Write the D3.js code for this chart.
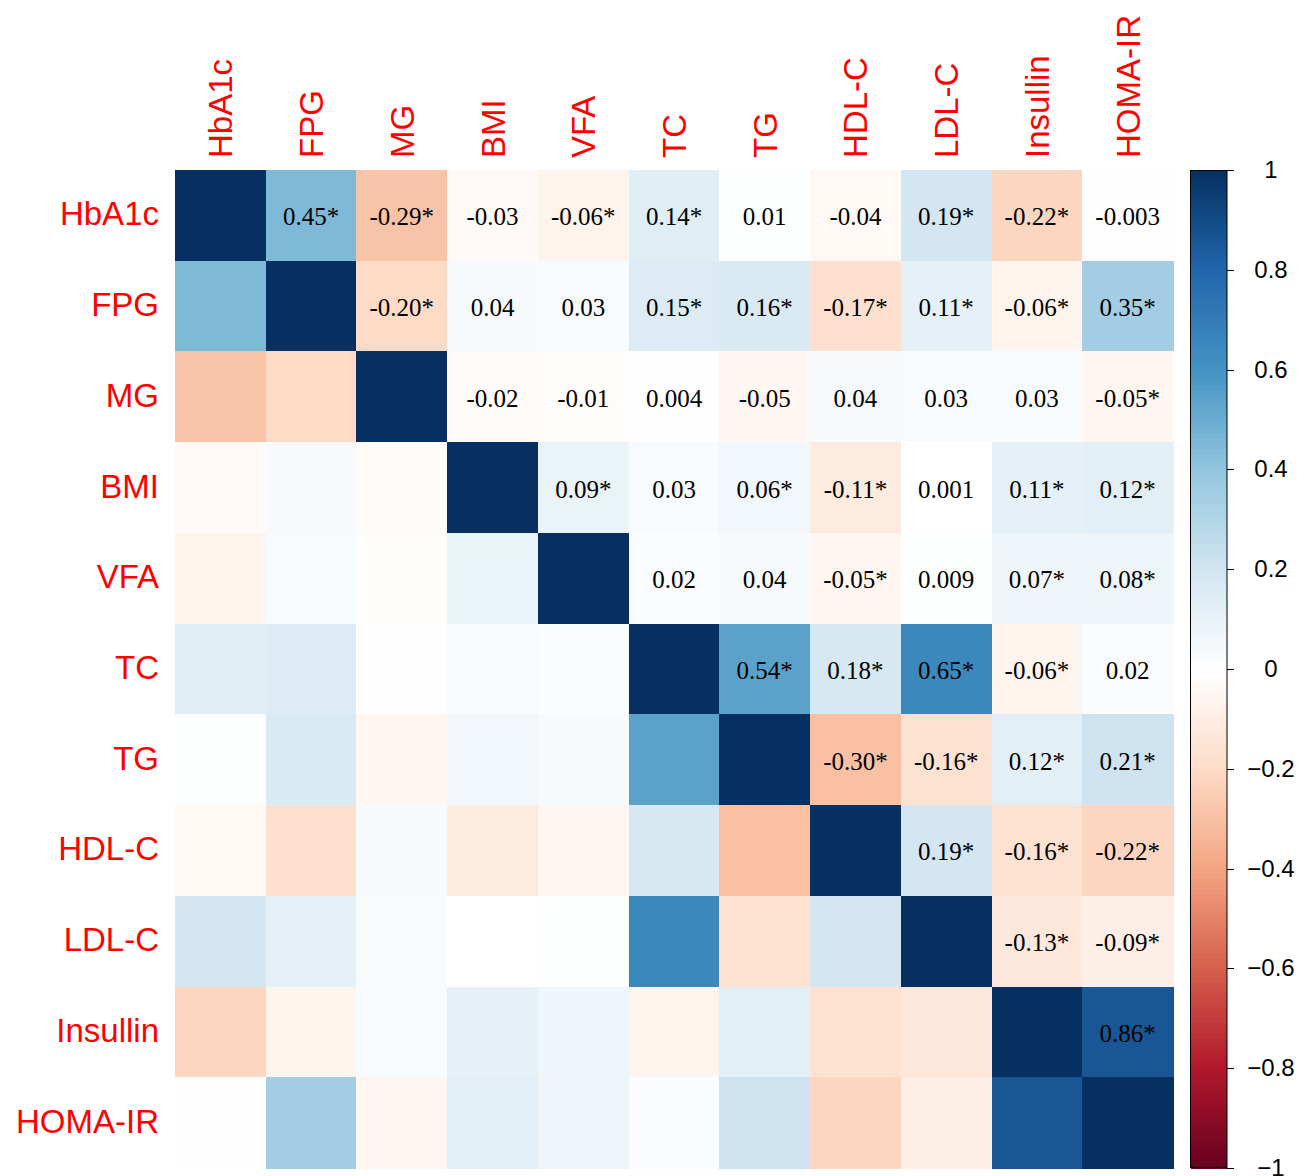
<!DOCTYPE html>
<html>
<head>
<meta charset="utf-8">
<script src="https://cdn.jsdelivr.net/npm/d3@7"></script>
<style>
  html, body { margin: 0; padding: 0; background: #fff; }
  svg { display: block; }
</style>
</head>
<body>
<svg id="chart" width="1307" height="1176"></svg>
<script>
// ---------- DATA ----------
const variables = ["HbA1c", "FPG", "MG", "BMI", "VFA", "TC", "TG", "HDL-C", "LDL-C", "Insullin", "HOMA-IR"];

// upper-triangle correlations, row by row (columns to the right of the diagonal)
const upperValues = [
  [0.45, -0.29, -0.03, -0.06, 0.14, 0.01, -0.04, 0.19, -0.22, -0.003],
  [-0.20, 0.04, 0.03, 0.15, 0.16, -0.17, 0.11, -0.06, 0.35],
  [-0.02, -0.01, 0.004, -0.05, 0.04, 0.03, 0.03, -0.05],
  [0.09, 0.03, 0.06, -0.11, 0.001, 0.11, 0.12],
  [0.02, 0.04, -0.05, 0.009, 0.07, 0.08],
  [0.54, 0.18, 0.65, -0.06, 0.02],
  [-0.30, -0.16, 0.12, 0.21],
  [0.19, -0.16, -0.22],
  [-0.13, -0.09],
  [0.86]
];

// significance flags (1 = marked with *), same layout as upperValues
const upperSig = [
  [1, 1, 0, 1, 1, 0, 0, 1, 1, 0],
  [1, 0, 0, 1, 1, 1, 1, 1, 1],
  [0, 0, 0, 0, 0, 0, 0, 1],
  [1, 0, 1, 1, 0, 1, 1],
  [0, 0, 1, 0, 1, 1],
  [1, 1, 1, 1, 0],
  [1, 1, 1, 1],
  [1, 1, 1],
  [1, 1],
  [1]
];

const colorStops = ["#67001F", "#B2182B", "#D6604D", "#F4A582", "#FDDBC7", "#FFFFFF",
                    "#D1E5F0", "#92C5DE", "#4393C3", "#2166AC", "#053061"];
const legendTicks = [1, 0.8, 0.6, 0.4, 0.2, 0, -0.2, -0.4, -0.6, -0.8, -1];

// ---------- BUILD ----------
const n = variables.length;
const cells = [];
for (let i = 0; i < n; i++) {
  for (let j = 0; j < n; j++) {
    let v, sig = 0, upper = false;
    if (i === j) { v = 1; }
    else if (j > i) { v = upperValues[i][j - i - 1]; sig = upperSig[i][j - i - 1]; upper = true; }
    else { v = upperValues[j][i - j - 1]; }
    cells.push({ row: i, col: j, v, sig, upper });
  }
}

const svg = d3.select("#chart");
const gLeft = 175, gTop = 170, gSize = 998;

const x = d3.scaleBand().domain(d3.range(n)).range([gLeft, gLeft + gSize]).paddingInner(0);
const y = d3.scaleBand().domain(d3.range(n)).range([gTop, gTop + gSize]).paddingInner(0);

const color = d3.scaleLinear()
  .domain(d3.range(colorStops.length).map(k => -1 + k * 0.2))
  .range(colorStops)
  .interpolate(d3.interpolateRgb)
  .clamp(true);

// cells
svg.append("g").selectAll("rect").data(cells).join("rect")
  .attr("x", d => x(d.col))
  .attr("y", d => y(d.row))
  .attr("width", x.bandwidth() + 0.5)
  .attr("height", y.bandwidth() + 0.5)
  .attr("fill", d => color(d.v))
  .attr("shape-rendering", "crispEdges");

// value labels (upper triangle)
const fmt = v => (Math.abs(v) < 0.01 ? v.toFixed(3) : v.toFixed(2));
svg.append("g").selectAll("text").data(cells.filter(d => d.upper)).join("text")
  .attr("x", d => x(d.col) + x.bandwidth() / 2)
  .attr("y", d => y(d.row) + y.bandwidth() / 2 + 10)
  .attr("text-anchor", "middle")
  .attr("font-family", "'Liberation Serif', 'Times New Roman', serif")
  .attr("font-size", 25)
  .attr("fill", "#000")
  .text(d => fmt(d.v) + (d.sig ? "*" : ""));

// row labels
svg.append("g").selectAll("text").data(variables).join("text")
  .attr("x", gLeft - 16)
  .attr("y", (d, i) => y(i) + y.bandwidth() / 2 + 10)
  .attr("text-anchor", "end")
  .attr("font-family", "'Liberation Sans', Arial, Helvetica, sans-serif")
  .attr("font-size", 33)
  .attr("fill", "#FF0000")
  .text(d => d);

// column labels
svg.append("g").selectAll("text").data(variables).join("text")
  .attr("transform", (d, i) => `translate(${x(i) + x.bandwidth() / 2 + 12},${gTop - 12}) rotate(-90)`)
  .attr("text-anchor", "start")
  .attr("font-family", "'Liberation Sans', Arial, Helvetica, sans-serif")
  .attr("font-size", 33)
  .attr("fill", "#FF0000")
  .text(d => d);

// ---------- COLOR LEGEND ----------
const barX = 1190.5, barW = 36.5;
const ly = d3.scaleLinear().domain([1, -1]).range([gTop, gTop + gSize]);
const steps = d3.range(200).map(k => 1 - (k + 0.5) * (2 / 200));
svg.append("g").selectAll("rect").data(steps).join("rect")
  .attr("x", barX)
  .attr("y", d => ly(d + 1 / 200))
  .attr("width", barW)
  .attr("height", gSize / 200 + 0.6)
  .attr("fill", d => color(d))
  .attr("shape-rendering", "crispEdges");

svg.append("rect")
  .attr("x", barX).attr("y", gTop + 0.5)
  .attr("width", barW).attr("height", gSize - 1)
  .attr("fill", "none").attr("stroke", "#000").attr("stroke-width", 1);

const lg = svg.append("g");
lg.selectAll("line").data(legendTicks).join("line")
  .attr("x1", barX + barW).attr("x2", barX + barW + 7)
  .attr("y1", d => Math.round(ly(d)) + 0.5).attr("y2", d => Math.round(ly(d)) + 0.5)
  .attr("stroke", "#000").attr("stroke-width", 1);

lg.selectAll("text").data(legendTicks).join("text")
  .attr("x", 1271)
  .attr("y", d => ly(d) + 8)
  .attr("text-anchor", "middle")
  .attr("font-family", "'Liberation Sans', Arial, Helvetica, sans-serif")
  .attr("font-size", 24)
  .attr("fill", "#000")
  .text(d => (d < 0 ? "\u2212" + Math.abs(d) : String(d)));
</script>
</body>
</html>
